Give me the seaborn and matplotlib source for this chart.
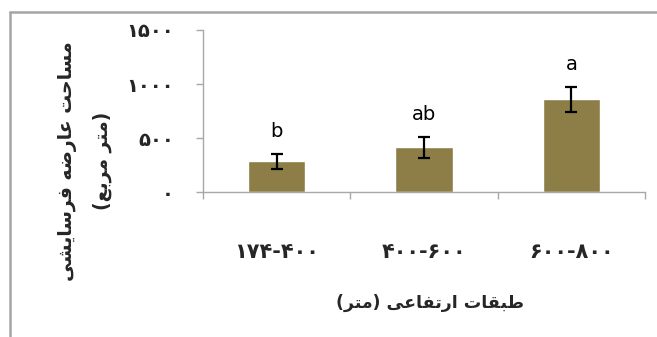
import numpy as np
import pandas as pd
import matplotlib
matplotlib.use("Agg")
import matplotlib.pyplot as plt
from matplotlib.lines import Line2D
import seaborn as sns

# dati
categorie = ["۱۷۴-۴۰۰", "۴۰۰-۶۰۰", "۶۰۰-۸۰۰"]
medie = [285, 415, 860]
errori = [70, 95, 115]
lettere = ["b", "ab", "a"]
yticks = [0, 500, 1000, 1500]
ytick_labels = ["۰", "۵۰۰", "۱۰۰۰", "۱۵۰۰"]
ylabel = "مساحت عارضه فرسایشی\n(متر مربع)"
xlabel = "طبقات ارتفاعی (متر)"

# forme di presentazione arabe: isolata, finale, iniziale, mediana
FORME = {
    "م": ("\uFEE1", "\uFEE2", "\uFEE3", "\uFEE4"),
    "س": ("\uFEB1", "\uFEB2", "\uFEB3", "\uFEB4"),
    "ش": ("\uFEB5", "\uFEB6", "\uFEB7", "\uFEB8"),
    "ا": ("\uFE8D", "\uFE8E", None, None),
    "ح": ("\uFEA1", "\uFEA2", "\uFEA3", "\uFEA4"),
    "ت": ("\uFE95", "\uFE96", "\uFE97", "\uFE98"),
    "ع": ("\uFEC9", "\uFECA", "\uFECB", "\uFECC"),
    "ر": ("\uFEAD", "\uFEAE", None, None),
    "ض": ("\uFEBD", "\uFEBE", "\uFEBF", "\uFEC0"),
    "ه": ("\uFEE9", "\uFEEA", "\uFEEB", "\uFEEC"),
    "ف": ("\uFED1", "\uFED2", "\uFED3", "\uFED4"),
    "ی": ("\uFBFC", "\uFBFD", "\uFBFE", "\uFBFF"),
    "ب": ("\uFE8F", "\uFE90", "\uFE91", "\uFE92"),
    "ط": ("\uFEC1", "\uFEC2", "\uFEC3", "\uFEC4"),
    "ق": ("\uFED5", "\uFED6", "\uFED7", "\uFED8"),
}


def forma_riga(s):
    out = []
    for i, c in enumerate(s):
        if c not in FORME:
            out.append(c)
            continue
        prec = s[i - 1] if i > 0 else ""
        succ = s[i + 1] if i + 1 < len(s) else ""
        lega_prec = prec in FORME and FORME[prec][2] is not None
        lega_succ = succ in FORME and FORME[c][2] is not None
        f = FORME[c]
        if lega_prec and lega_succ:
            out.append(f[3])
        elif lega_prec:
            out.append(f[1])
        elif lega_succ:
            out.append(f[2])
        else:
            out.append(f[0])
    vis = "".join(reversed(out))
    return vis.translate(str.maketrans("()", ")("))


def forma(s):
    return "\n".join(forma_riga(r) for r in s.split("\n"))


sns.set_theme(style="white")
plt.rcParams["font.family"] = ["DejaVu Sans"]

df = pd.DataFrame({"classe": categorie, "area": medie, "err": errori})

fig = plt.figure(figsize=(6.57, 3.37), dpi=100)
ax = fig.add_axes([0.309, 0.430, 0.673, 0.481])

sns.barplot(data=df, x="classe", y="area", color="#8C7E46", width=0.39,
            saturation=1, ax=ax)
ax.errorbar(np.arange(len(medie)), medie, yerr=errori, fmt="none",
            ecolor="black", elinewidth=1.6, capsize=4.3, capthick=1.6)

for i, (m, e, l) in enumerate(zip(medie, errori, lettere)):
    ax.annotate(l, xy=(i, m + e), xytext=(0, 9), textcoords="offset points",
                ha="center", va="bottom", fontsize=14, color="black")

ax.set_xlim(-0.5, 2.5)
ax.set_ylim(0, 1500)
ax.set_yticks(yticks)
ax.set_yticklabels(ytick_labels, fontsize=14, fontweight="bold")
ax.set_xticks(range(len(categorie)))
ax.set_xticklabels(categorie, fontsize=15, fontweight="bold")
ax.set_xticks([-0.5, 0.5, 1.5, 2.5], minor=True)
ax.tick_params(axis="x", which="major", length=0, pad=36)
ax.tick_params(axis="x", which="minor", length=5, width=1, color="#a8a8a8",
               direction="out", bottom=True)
ax.tick_params(axis="y", length=5, width=1, color="#a8a8a8",
               direction="out", left=True, pad=16)
ax.set_xlabel("")
ax.set_ylabel("")

for s in ["top", "right"]:
    ax.spines[s].set_visible(False)
for s in ["left", "bottom"]:
    ax.spines[s].set_color("#a8a8a8")
    ax.spines[s].set_linewidth(1)

fig.text(85 / 657, 1 - 161 / 337, forma(ylabel), rotation=90, ha="center",
         va="center", multialignment="center", fontsize=13.5,
         fontweight="bold", linespacing=2.1)
fig.text(430 / 657, 1 - 303 / 337, forma(xlabel), ha="center", va="center",
         fontsize=12.5, fontweight="bold")

# cornice grigia in alto e a sinistra
fig.add_artist(Line2D([0.0145, 1], [0.964, 0.964], transform=fig.transFigure,
                      color="#a5a5a5", linewidth=1.8))
fig.add_artist(Line2D([0.0145, 0.0145], [0, 0.964], transform=fig.transFigure,
                      color="#a5a5a5", linewidth=1.8))

fig.savefig("out.png", dpi=100)
